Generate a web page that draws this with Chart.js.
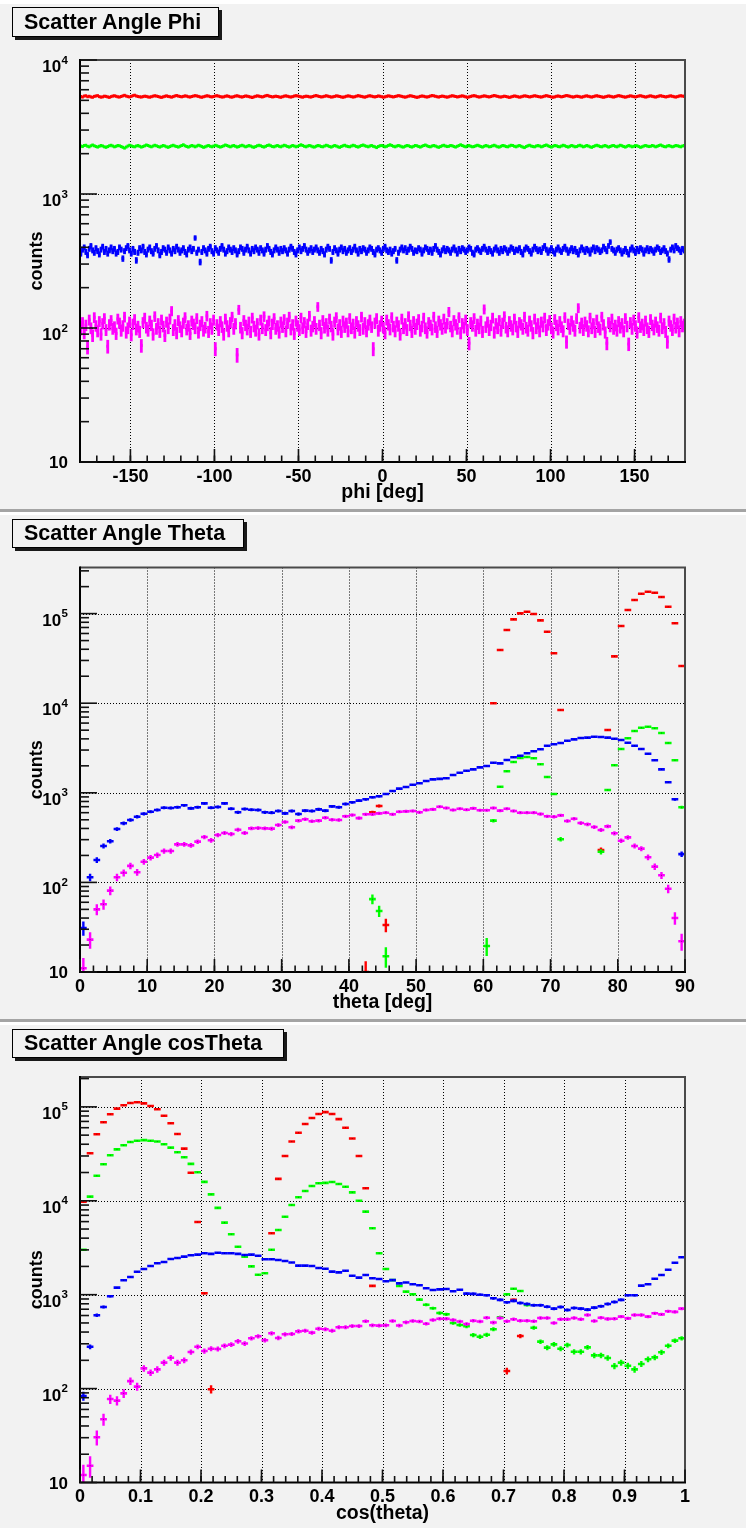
<!DOCTYPE html>
<html>
<head>
<meta charset="utf-8">
<title>Scatter Angle</title>
<script src="https://cdn.jsdelivr.net/npm/chart.js@4.4.1/dist/chart.umd.min.js"></script>
<style>
  html, body { margin: 0; padding: 0; }
  body { width: 746px; height: 1528px; overflow: hidden; position: relative; background: #f2f2f2;
         font-family: "Liberation Sans", Arial, Helvetica, sans-serif; }
  .pad { position: absolute; left: 0; width: 746px; background: #f2f2f2; }
  .pad canvas { position: absolute; left: 0; top: 0; }
  .ttl { position: absolute; left: 12px; box-sizing: border-box; border: 1px solid #000;
         background: #f2f2f2; box-shadow: 3px 3px 0 #1a1a1a; font-weight: bold; font-size: 21.5px;
         color: #000; padding-left: 11px; white-space: nowrap; }
  .sep { position: absolute; left: 0; width: 746px; height: 3px; background: #a4a4a4; }
  .hl  { position: absolute; left: 0; width: 746px; height: 3px; background: #ffffff; }
</style>
</head>
<body>
<div class="pad" style="top:0;height:510px">
  <canvas id="padPhi" width="746" height="510"></canvas>
  <div class="ttl" style="top:7px;width:207px;height:30px;line-height:28px">Scatter Angle Phi</div>
</div>
<div class="pad" style="top:510px;height:510px">
  <canvas id="padTheta" width="746" height="510"></canvas>
  <div class="ttl" style="top:9px;width:232px;height:29px;line-height:27px">Scatter Angle Theta</div>
</div>
<div class="pad" style="top:1020px;height:508px">
  <canvas id="padCos" width="746" height="508"></canvas>
  <div class="ttl" style="top:9px;width:272px;height:29px;line-height:27px">Scatter Angle cosTheta</div>
</div>
<div class="hl" style="top:0;height:4px"></div>
<div class="sep" style="top:509px"></div>
<div class="hl" style="top:512px"></div>
<div class="sep" style="top:1019px"></div>
<div class="hl" style="top:1022px"></div>

<script>
// ---------------------------------------------------------------------------
// Histogram contents (counts per bin)
// ---------------------------------------------------------------------------
const _ = null;

// phi: 360 bins, -180 .. 180 deg
const phiRed = [
  5340,5290,5380,5410,5320,5360,5300,5270,5350,5390,5420,5330,5280,5310,5370,5350,5300,5260,5330,5380,
  5410,5360,5310,5290,5340,5400,5450,5380,5330,5300,5350,5420,5460,5390,5340,5310,5290,5330,5370,5350,
  5300,5280,5320,5370,5410,5380,5340,5290,5260,5310,5360,5400,5350,5320,5280,5330,5390,5430,5380,5340,
  5310,5350,5400,5370,5320,5290,5340,5380,5420,5390,5350,5300,5270,5320,5360,5410,5380,5330,5300,5340,
  5390,5420,5370,5330,5290,5310,5360,5400,5350,5300,5280,5330,5380,5410,5360,5320,5290,5340,5390,5370,
  5330,5290,5250,5310,5360,5400,5370,5330,5300,5350,5410,5440,5380,5340,5300,5330,5370,5340,5300,5270,
  5320,5370,5400,5360,5320,5290,5330,5380,5420,5390,5350,5310,5280,5330,5370,5350,5310,5290,5340,5390,
  5430,5380,5340,5300,5320,5360,5410,5370,5330,5290,5310,5350,5400,5380,5340,5300,5270,5310,5360,5400,
  5370,5330,5290,5320,5370,5420,5380,5350,5310,5280,5330,5380,5410,5370,5330,5300,5340,5390,5360,5320,
  5280,5310,5360,5400,5370,5330,5300,5340,5380,5420,5390,5350,5310,5280,5320,5370,5410,5380,5340,5300,
  5260,5300,5350,5390,5360,5320,5290,5330,5380,5430,5400,5360,5320,5290,5340,5380,5350,5310,5280,5320,
  5370,5410,5380,5340,5300,5330,5370,5400,5360,5310,5270,5300,5350,5390,5420,5380,5330,5290,5320,5360,
  5400,5370,5330,5300,5340,5390,5430,5390,5350,5310,5290,5330,5370,5340,5300,5260,5300,5350,5390,5360,
  5320,5280,5310,5360,5400,5380,5340,5300,5330,5370,5410,5380,5340,5310,5290,5330,5380,5420,5380,5340,
  5300,5270,5310,5360,5390,5350,5310,5340,5390,5430,5400,5360,5320,5290,5330,5370,5350,5310,5280,5320,
  5370,5400,5360,5320,5290,5330,5380,5410,5370,5340,5300,5270,5310,5350,5390,5360,5320,5290,5330,5380,
  5420,5390,5350,5310,5280,5320,5360,5400,5370,5330,5300,5340,5390,5410,5370,5330,5290,5320,5370,5400,
  5360,5320,5290,5330,5380,5410,5370,5340,5300,5330,5370,5400,5360,5320,5290,5330,5380,5410,5380,5350
];
const phiGreen = [
  2280,2260,2300,2310,2270,2250,2290,2320,2290,2260,2240,2270,2300,2280,2250,2230,2260,2290,2310,2280,
  2250,2270,2300,2290,2260,2230,2200,2240,2280,2310,2290,2260,2250,2280,2300,2270,2240,2260,2290,2320,
  2300,2270,2250,2280,2310,2290,2260,2240,2270,2300,2280,2250,2230,2260,2290,2310,2280,2260,2240,2270,
  2300,2330,2290,2260,2240,2270,2300,2280,2250,2280,2310,2290,2260,2230,2250,2280,2300,2270,2250,2280,
  2310,2290,2260,2240,2260,2290,2320,2300,2270,2250,2280,2300,2270,2240,2260,2290,2310,2280,2250,2270,
  2300,2280,2250,2230,2260,2290,2310,2290,2260,2240,2270,2300,2320,2290,2260,2250,2280,2300,2270,2250,
  2280,2310,2290,2260,2240,2270,2300,2280,2250,2270,2300,2330,2300,2270,2250,2280,2300,2280,2250,2240,
  2270,2300,2290,2260,2250,2280,2310,2290,2260,2240,2270,2300,2280,2250,2230,2260,2290,2310,2280,2260,
  2250,2280,2310,2290,2260,2240,2270,2300,2320,2290,2270,2250,2280,2300,2270,2250,2220,2260,2290,2300,
  2280,2250,2270,2300,2330,2300,2270,2250,2280,2300,2280,2250,2240,2270,2300,2290,2260,2240,2270,2300,
  2290,2260,2240,2270,2300,2320,2290,2260,2250,2280,2300,2280,2250,2230,2260,2290,2310,2280,2260,2270,
  2300,2290,2260,2240,2270,2300,2330,2300,2270,2250,2280,2300,2270,2250,2260,2290,2310,2290,2260,2240,
  2270,2300,2280,2250,2260,2290,2310,2280,2250,2240,2270,2300,2290,2260,2250,2280,2310,2300,2270,2250,
  2280,2300,2270,2240,2220,2260,2290,2310,2280,2260,2250,2280,2300,2280,2250,2270,2300,2320,2290,2260,
  2240,2270,2300,2290,2260,2250,2280,2310,2290,2260,2240,2270,2300,2280,2250,2260,2290,2310,2280,2250,
  2270,2300,2280,2250,2230,2260,2290,2310,2290,2260,2250,2280,2300,2270,2240,2260,2290,2300,2270,2250,
  2280,2310,2290,2260,2240,2270,2300,2280,2250,2270,2300,2290,2260,2230,2250,2280,2300,2280,2260,2270,
  2300,2280,2250,2270,2300,2320,2290,2260,2250,2280,2300,2270,2250,2270,2300,2290,2270,2250,2280,2300
];
const phiBlue = [
  360,385,400,370,350,390,410,380,365,395,375,355,385,405,370,390,360,380,400,375,
  390,360,370,400,385,330,375,395,410,380,360,390,370,320,365,395,380,405,370,355,
  385,400,375,360,390,410,380,350,370,395,385,365,400,380,360,390,375,405,385,365,
  380,395,370,355,385,400,375,390,470,365,385,311,370,395,380,360,390,405,375,360,
  395,380,365,390,410,385,360,375,400,385,370,395,380,355,375,400,390,365,385,405,
  380,360,390,375,400,385,365,395,380,360,385,410,390,370,355,380,400,385,365,390,
  375,395,380,360,385,405,390,370,355,380,400,375,390,410,385,365,380,395,370,385,
  400,380,365,390,375,355,385,405,390,320,370,395,380,360,385,400,375,390,365,380,
  395,370,385,405,380,360,390,375,395,385,365,380,400,390,370,355,385,395,380,365,
  390,405,380,370,385,360,375,390,320,365,385,400,380,395,370,385,405,390,365,380,
  375,395,385,360,380,400,390,370,385,365,390,410,385,370,355,380,395,375,390,380,
  365,385,400,380,360,390,375,395,385,370,380,400,390,365,355,385,395,380,370,390,
  405,385,370,390,375,360,385,400,380,365,390,375,395,385,365,380,400,390,370,385,
  380,395,370,355,385,400,390,375,360,385,405,390,375,385,370,395,410,385,365,380,
  395,375,360,385,400,380,370,390,405,385,365,380,395,375,390,370,355,380,400,385,
  370,390,380,360,385,400,375,395,385,370,380,405,390,375,410,438,390,380,365,385,
  395,380,360,375,390,370,355,385,400,380,365,390,375,395,385,360,380,395,375,390,
  380,365,385,400,390,370,380,395,375,360,325,385,400,380,410,395,385,370,390,380
];
const phiMagenta = [
  98,110,92,105,72,115,100,88,120,104,95,112,90,108,118,97,73,106,114,99,
  102,91,117,109,96,104,121,93,100,111,89,107,116,98,103,94,74,110,119,101,
  96,113,105,90,122,99,108,94,115,103,88,111,100,117,134,97,106,92,114,102,
  95,109,120,98,104,91,113,107,100,118,93,105,112,96,101,123,94,108,99,115,
  70,106,97,112,102,90,117,104,95,110,121,99,108,63,137,101,92,114,105,98,
  111,94,119,103,96,108,90,115,100,122,97,105,113,92,107,118,99,104,93,111,
  102,116,95,109,121,98,106,91,113,104,97,119,100,110,94,107,123,96,103,112,
  99,144,105,92,114,101,108,96,117,103,90,111,120,98,106,94,113,102,109,95,
  118,100,107,93,112,104,97,121,99,110,95,106,115,102,70,109,118,96,104,113,
  101,92,115,106,98,120,103,95,111,104,90,117,100,108,97,122,105,94,112,99,
  107,116,96,103,119,100,93,110,105,98,121,102,94,113,106,99,117,101,108,132,
  103,95,114,106,99,120,92,108,101,115,97,77,110,104,118,96,107,100,113,94,
  138,102,111,97,105,119,93,108,100,114,96,109,122,101,95,112,104,98,117,103,
  94,110,106,99,121,101,96,113,104,92,117,100,108,95,111,103,119,97,106,114,
  100,93,116,105,98,112,102,95,120,79,107,99,113,104,96,118,141,101,109,97,
  111,104,95,119,100,108,94,115,102,98,121,106,93,77,110,103,117,99,105,96,
  112,101,108,95,118,103,76,110,99,115,104,93,120,102,107,97,113,100,94,116,
  105,98,111,102,96,119,100,108,94,79,113,104,97,117,101,109,95,112,103,107
];

// theta: 90 bins, 0 .. 90 deg
const thetaRed = [
  _,_,_,_,_,_,_,_,_,_, _,_,_,_,_,_,_,_,_,_, _,_,_,_,_,_,_,_,_,_, _,_,_,_,_,_,_,_,_,_,
  _,_,10,606,713,33.5,_,_,_,_, _,_,_,_,_,_,_,_,_,_,
  _,9980,39300,65600,86300,100700,105000,99000,84100,62800,
  36100,8400,_,_,_,_,_,230,5020,33300,
  72700,109600,141800,166800,175500,171000,153000,119300,78000,26000
];
const thetaGreen = [
  _,_,_,_,_,_,_,_,_,_, _,_,_,_,_,_,_,_,_,_, _,_,_,_,_,_,_,_,_,_, _,_,_,_,_,_,_,_,_,_,
  _,_,_,65,48,15,_,_,_,_, _,_,_,_,_,_,_,_,_,_,
  19.5,489,1170,1740,2210,2445,2510,2430,2080,1500,
  970,303,_,_,_,_,_,220,1075,2030,
  3080,4060,4900,5330,5470,5250,4650,3600,2306,689
];
const thetaBlue = [
  31,114,178,255,288,394,457,497,541,584,
  615,643,682,676,689,725,671,689,763,682,
  695,763,665,606,660,648,643,606,600,626,
  590,626,580,632,626,654,632,706,689,750,
  783,817,846,891,915,970,1047,1112,1161,1232,
  1276,1354,1413,1430,1452,1582,1676,1765,1826,1924,
  1990,2168,2130,2323,2489,2593,2760,2905,3060,3357,
  3478,3597,3814,3950,4090,4130,4230,4190,4130,4015,
  3880,3625,3357,3080,2730,2306,1826,1310,846,207
];
const thetaMagenta = [
  11,23,50,57,81,114,128,153,130,170,
  189,202,224,224,266,266,259,285,321,295,
  338,356,347,387,356,401,404,401,398,437,
  472,412,489,506,482,489,527,501,497,547,
  565,522,576,576,590,600,576,615,620,626,
  606,643,654,700,676,643,665,648,671,638,
  638,676,632,665,626,600,600,600,580,547,
  541,560,484,514,460,445,415,384,422,353,
  292,318,255,238,191,150,120,85,40,22
];

// cos(theta): 90 bins, 0 .. 1
const cosRed = [
  9770,32100,51100,68500,83400,95700,104000,110000,112000,109000,
  102000,94200,80500,66900,51400,35900,19900,5940,1035,98.5,
  _,_,_,_,_,_,_,_,4510,17100,
  30000,42700,53100,65800,76200,84000,88000,84000,74000,60000,
  46000,30000,13600,1240,_,_,_,_,_,_,
  _,_,_,_,_,_,_,_,_,_,
  _,_,_,154,880,363,_,_,_,_,
  _,_,_,_,_,_,_,_,_,_,
  _,_,_,_,_,_,_,_,_,_
];
const cosGreen = [
  3010,11070,18500,24500,30500,35300,39000,42300,43600,44200,
  43600,42700,40000,36800,32900,29100,24700,20100,15900,11700,
  8400,5850,4400,3240,2540,2000,1630,1690,3010,4890,
  6770,9020,10900,12700,14380,15360,15500,15850,15100,14130,
  12300,10000,7660,5090,2760,1880,1430,1240,1077,1010,
  885,782,716,638,618,500,476,461,372,357,
  374,428,574,1010,1158,1095,776,445,316,273,
  296,266,291,247,247,275,226,226,212,174,
  189,175,160,183,205,215,244,286,324,343
];
const cosBlue = [
  83.4,279,604,740,962,1188,1423,1544,1758,1878,
  2022,2160,2230,2400,2460,2540,2630,2670,2760,2720,
  2800,2760,2760,2720,2650,2670,2600,2380,2380,2340,
  2280,2200,2040,2040,2020,1924,1890,1760,1730,1800,
  1593,1520,1620,1497,1470,1390,1430,1320,1350,1290,
  1260,1170,1120,1140,1150,1087,1130,1026,1020,1000,
  985,916,880,830,860,817,797,771,771,745,
  710,740,687,721,710,693,728,752,797,836,
  880,985,985,1248,1290,1480,1620,1845,2190,2500
];
const cosMagenta = [
  12,15.1,30.3,47.1,77.4,74.5,89,120,105,164,
  148,160,189,213,189,200,245,279,251,266,
  264,286,294,319,302,343,361,327,388,346,
  379,382,407,413,394,434,428,413,450,450,
  464,464,521,472,468,472,525,469,508,525,
  518,491,538,555,555,538,518,488,528,518,
  569,505,565,521,548,528,528,521,565,565,
  500,548,548,565,548,608,525,569,552,555,
  584,560,608,608,584,634,617,665,656,710
];

// axis tick labels
const phiTickLabels   = ['-150', '-100', '-50', '0', '50', '100', '150'];
const thetaTickLabels = ['0', '10', '20', '30', '40', '50', '60', '70', '80', '90'];
const cosTickLabels   = ['0', '0.1', '0.2', '0.3', '0.4', '0.5', '0.6', '0.7', '0.8', '0.9', '1'];

// series colours, in drawing order (first is drawn underneath)
const seriesColors = ['#ff0000', '#00ff00', '#0000ff', '#ff00ff'];

// ---------------------------------------------------------------------------
// Drawing helpers
// ---------------------------------------------------------------------------
const FONT = '"Liberation Sans", Arial, Helvetica, sans-serif';

function binPoints(lo, hi, values) {
  const w = (hi - lo) / values.length;
  const pts = [];
  values.forEach((v, i) => {
    if (v !== null && v > 0) pts.push({ x: lo + (i + 0.5) * w, y: v });
  });
  return pts;
}

// half a bin in pixels, never narrower than a small marker
function halfBinPx(chart, nbins) {
  const xs = chart.scales.x;
  if (!xs) return 1.3;
  const w = (xs.max - xs.min) / nbins;
  const half = Math.abs(xs.getPixelForValue(xs.min + w) - xs.getPixelForValue(xs.min)) / 2;
  return Math.max(half, 1.3);
}

// vertical sqrt(N) error bars and the small centre dot, drawn right after each dataset
const errorBars = {
  id: 'errorBars',
  afterDatasetDraw(chart, args) {
    const ctx = chart.ctx, area = chart.chartArea, ys = chart.scales.y;
    const ds = chart.data.datasets[args.index];
    ctx.save();
    ctx.beginPath();
    ctx.rect(area.left, area.top, area.right - area.left, area.bottom - area.top);
    ctx.clip();
    ctx.strokeStyle = ds.borderColor;
    ctx.lineWidth = ds.errWidth;
    ctx.lineCap = 'butt';
    args.meta.data.forEach((el, i) => {
      const v = ds.data[i].y;
      const e = Math.sqrt(v);
      const lo = v - e > 0 ? ys.getPixelForValue(v - e) : area.bottom + 5;
      const hi = ys.getPixelForValue(v + e);
      if (lo - hi > 2.5) {
        ctx.beginPath();
        ctx.moveTo(el.x, lo);
        ctx.lineTo(el.x, hi);
        ctx.stroke();
      }
    });
    ctx.fillStyle = 'rgba(0,0,0,0.45)';
    if (ds.centreDot) {
      args.meta.data.forEach(el => ctx.fillRect(el.x - 0.5, el.y - 0.5, 1, 1));
    }
    ctx.restore();
  }
};

// ROOT-style frame: dotted grid, inward ticks, labels and axis titles
const rootAxes = {
  id: 'rootAxes',
  beforeDatasetsDraw(chart, args, o) {
    const ctx = chart.ctx, a = chart.chartArea, xs = chart.scales.x, ys = chart.scales.y;
    ctx.save();
    ctx.strokeStyle = '#000';
    ctx.lineWidth = 1;
    ctx.setLineDash([1, 2]);
    o.xMajor.forEach(v => {
      const x = Math.round(xs.getPixelForValue(v)) + 0.5;
      if (x <= a.left + 1 || x >= a.right - 1) return;
      ctx.beginPath(); ctx.moveTo(x, a.top); ctx.lineTo(x, a.bottom); ctx.stroke();
    });
    for (let k = Math.ceil(Math.log10(ys.min)); Math.pow(10, k) <= ys.max; k++) {
      const y = Math.round(ys.getPixelForValue(Math.pow(10, k))) + 0.5;
      if (y <= a.top + 1 || y >= a.bottom - 1) continue;
      ctx.beginPath(); ctx.moveTo(a.left, y); ctx.lineTo(a.right, y); ctx.stroke();
    }
    ctx.restore();
  },
  afterDatasetsDraw(chart, args, o) {
    const ctx = chart.ctx, a = chart.chartArea, xs = chart.scales.x, ys = chart.scales.y;
    ctx.save();
    // frame (top and right)
    ctx.strokeStyle = '#4a4a4a';
    ctx.lineWidth = 2;
    ctx.beginPath();
    ctx.moveTo(a.left, a.top); ctx.lineTo(a.right, a.top); ctx.lineTo(a.right, a.bottom);
    ctx.stroke();
    // axes
    ctx.strokeStyle = '#000';
    ctx.beginPath();
    ctx.moveTo(a.left, a.top - 1); ctx.lineTo(a.left, a.bottom); ctx.lineTo(a.right + 1, a.bottom);
    ctx.stroke();
    // x ticks
    ctx.lineWidth = 1.6;
    ctx.strokeStyle = '#111';
    const tick = (x, len) => { ctx.beginPath(); ctx.moveTo(x, a.bottom); ctx.lineTo(x, a.bottom - len); ctx.stroke(); };
    o.xMinor.forEach(v => tick(xs.getPixelForValue(v), 6.5));
    o.xMajor.forEach(v => tick(xs.getPixelForValue(v), 13));
    // y ticks (log)
    const ytick = (y, len) => { ctx.beginPath(); ctx.moveTo(a.left, y); ctx.lineTo(a.left + len, y); ctx.stroke(); };
    const kMin = Math.floor(Math.log10(ys.min)), kMax = Math.ceil(Math.log10(ys.max));
    for (let k = kMin; k <= kMax; k++) {
      for (let m = 1; m <= 9; m++) {
        const v = m * Math.pow(10, k);
        if (v < ys.min * 0.999 || v > ys.max * 1.001) continue;
        ytick(ys.getPixelForValue(v), m === 1 ? 17 : 9);
      }
    }
    // x tick labels
    ctx.fillStyle = '#000';
    ctx.font = 'bold 18px ' + FONT;
    ctx.textAlign = 'center';
    ctx.textBaseline = 'alphabetic';
    o.xMajor.forEach((v, i) => {
      ctx.fillText(o.xLabels[i], xs.getPixelForValue(v), a.bottom + 19.5);
    });
    // y tick labels: 10, 10^2, ...
    ctx.textAlign = 'right';
    const right = a.left - 12;
    for (let k = Math.ceil(Math.log10(ys.min)); Math.pow(10, k) <= ys.max * 1.001; k++) {
      const y = ys.getPixelForValue(Math.pow(10, k));
      if (k === 1) {
        ctx.font = 'bold 17px ' + FONT;
        ctx.fillText('10', right, y + 6);
      } else {
        ctx.font = 'bold 11.5px ' + FONT;
        const exp = String(k);
        const ew = ctx.measureText(exp).width;
        ctx.fillText(exp, right, y + 3.5);
        ctx.font = 'bold 17px ' + FONT;
        ctx.fillText('10', right - ew - 0.5, y + 12);
      }
    }
    // axis titles
    ctx.font = 'bold 19.5px ' + FONT;
    ctx.textAlign = 'center';
    ctx.fillText(o.xTitle, (a.left + a.right) / 2, a.bottom + 36);
    ctx.save();
    ctx.font = 'bold 18px ' + FONT;
    ctx.translate(a.left - 38, (a.top + a.bottom) / 2);
    ctx.rotate(-Math.PI / 2);
    ctx.fillText(o.yTitle, 0, 0);
    ctx.restore();
    ctx.restore();
  }
};

function range(from, to, step) {
  const out = [];
  const n = Math.round((to - from) / step);
  for (let i = 0; i <= n; i++) out.push(+(from + i * step).toFixed(6));
  return out;
}

function makePad(id, cfg) {
  const nb = cfg.series[0].length;
  const el = document.getElementById(id);
  return new Chart(el, {
    type: 'scatter',
    data: {
      datasets: cfg.series.map((vals, i) => ({
        data: binPoints(cfg.xmin, cfg.xmax, vals),
        borderColor: seriesColors[i],
        backgroundColor: seriesColors[i],
        pointStyle: 'line',
        pointRadius: c => halfBinPx(c.chart, nb),
        pointHoverRadius: c => halfBinPx(c.chart, nb),
        pointBorderWidth: nb > 90 ? 3 : 2.6,
        errWidth: nb > 90 ? 2.8 : 2.4,
        showLine: false,
        centreDot: nb <= 90,
        order: cfg.series.length - i
      }))
    },
    options: {
      responsive: false,
      animation: false,
      events: [],
      layout: { padding: cfg.padding },
      plugins: {
        legend: { display: false },
        tooltip: { enabled: false },
        rootAxes: {
          xMajor: cfg.xMajor, xMinor: cfg.xMinor, xLabels: cfg.xLabels,
          xTitle: cfg.xTitle, yTitle: 'counts'
        }
      },
      scales: {
        x: { type: 'linear', min: cfg.xmin, max: cfg.xmax, display: false },
        y: { type: 'logarithmic', min: cfg.ymin, max: cfg.ymax, display: false }
      }
    },
    plugins: [rootAxes, errorBars]
  });
}

makePad('padPhi', {
  series: [phiRed, phiGreen, phiBlue, phiMagenta],
  xmin: -180, xmax: 180, ymin: 10, ymax: 10000,
  xMajor: range(-150, 150, 50), xMinor: range(-170, 170, 10), xLabels: phiTickLabels,
  xTitle: 'phi [deg]',
  padding: { left: 80, right: 61, top: 60, bottom: 48 }
});

makePad('padTheta', {
  series: [thetaRed, thetaGreen, thetaBlue, thetaMagenta],
  xmin: 0, xmax: 90, ymin: 10, ymax: 327000,
  xMajor: range(0, 90, 10), xMinor: range(2, 88, 2), xLabels: thetaTickLabels,
  xTitle: 'theta [deg]',
  padding: { left: 80, right: 61, top: 57.5, bottom: 48 }
});

makePad('padCos', {
  series: [cosRed, cosGreen, cosBlue, cosMagenta],
  xmin: 0, xmax: 1, ymin: 10, ymax: 208000,
  xMajor: range(0, 1, 0.1), xMinor: range(0.02, 0.98, 0.02), xLabels: cosTickLabels,
  xTitle: 'cos(theta)',
  padding: { left: 80, right: 61, top: 57, bottom: 45.5 }
});
</script>
</body>
</html>
